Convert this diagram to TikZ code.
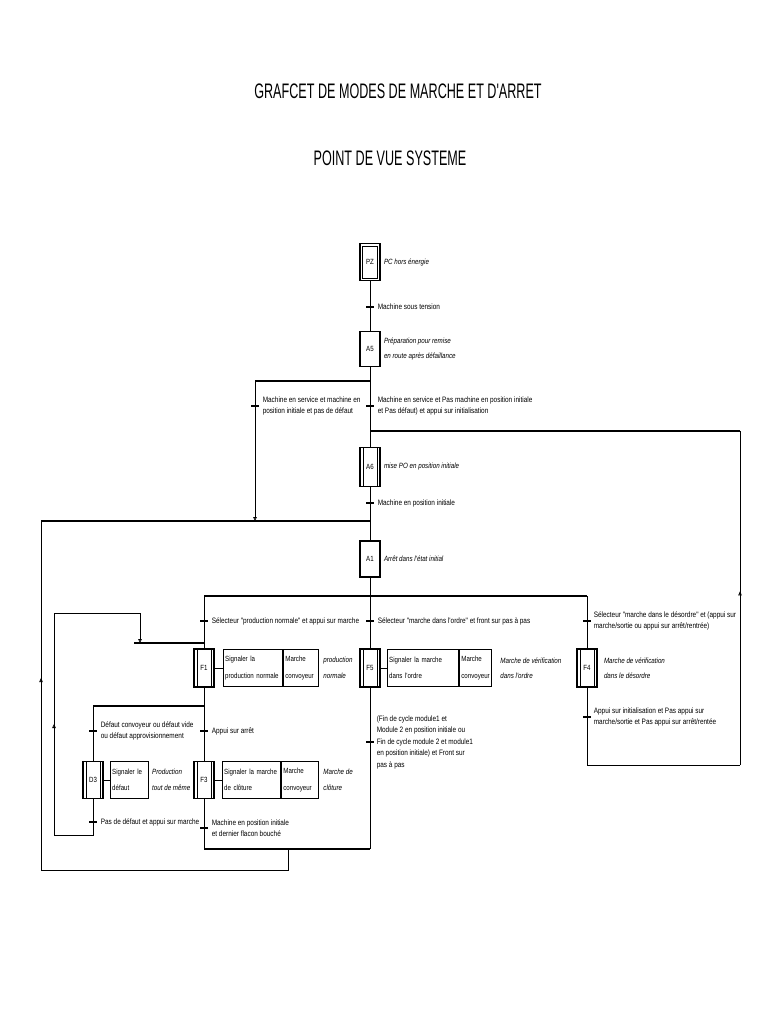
\documentclass[tikz,border=0pt]{standalone}
\usepackage{fontspec}
\usepackage{tikz}
\usetikzlibrary{arrows.meta,positioning,decorations.markings}
\newfontfamily\lblfont[FakeStretch=0.82]{Liberation Sans}
\newfontfamily\titrefont[FakeStretch=0.6]{Liberation Sans}
\newcommand{\petit}{\lblfont\fontsize{7.85}{11.5}\selectfont}

\tikzset{
  etape/.style={draw,line width=1.2pt,minimum width=20pt,minimum height=37pt,inner sep=0,font=\lblfont\fontsize{7.5}{9}\selectfont},
  etapeinit/.style={etape,path picture={\draw[line width=0.6pt] ([shift={(2.5pt,-2.5pt)}]path picture bounding box.north west) rectangle ([shift={(-2.5pt,2.5pt)}]path picture bounding box.south east);}},
  etapedbl/.style={etape,path picture={\draw[line width=0.6pt]
      ([xshift=3pt]path picture bounding box.north west) -- ([xshift=3pt]path picture bounding box.south west)
      ([xshift=-3pt]path picture bounding box.north east) -- ([xshift=-3pt]path picture bounding box.south east);}},
  trans/.style={fill,minimum width=8pt,minimum height=1.4pt,inner sep=0},
  recept/.style={anchor=west,align=left,inner sep=0,font=\petit},
  comment/.style={anchor=west,align=left,inner sep=0,font=\lblfont\fontsize{7.6}{15.5}\selectfont\itshape},
  action/.style={draw,line width=1.2pt,minimum height=37pt,inner xsep=2pt,inner ysep=0,text width=#1,align=left,font=\lblfont\fontsize{7.5}{16.5}\selectfont},
  jonction/.style={line width=1.3pt},
  fleche/.style={-{Triangle[open,length=4pt,width=3.5pt]}},
  midfleche/.style={postaction={decorate},decoration={markings,mark=at position #1 with {\arrow{Triangle[open,length=4pt,width=3.5pt]}}}}
}

\begin{document}
\begin{tikzpicture}[x=1pt,y=-1pt,line width=0.8pt]
\useasboundingbox (0,0) rectangle (768,1024);
\node[font=\titrefont\fontsize{21}{24}\selectfont] (titre) at (398,91) {GRAFCET DE MODES DE MARCHE ET D'ARRET};
\node[font=\titrefont\fontsize{21}{24}\selectfont] (soustitre) at (390,158) {POINT DE VUE SYSTEME};

% etapes de la colonne principale
\node[etapeinit] (pz) at (370,262) {PZ};
\node[comment,right=3pt of pz] {PC hors énergie};
\node[etape,minimum height=35pt] (a5) at (370,349) {A5};
\node[comment,right=3pt of a5] {Préparation pour remise\\en route après défaillance};
\node[etapedbl,minimum height=39pt] (a6) at (370,467) {A6};
\node[comment,right=3pt of a6] {mise PO en position initiale};
\node[etape,minimum height=36pt] (a1) at (370,559) {A1};
\node[comment,right=3pt of a1] {Arrêt dans l'état initial};

% etapes de production
\node[etapedbl,minimum height=38pt] (f1) at (204,668) {F1};
\node[action=55pt,right=8pt of f1] (f1a) {Signaler la\\production normale};
\node[action=31pt,right=0pt of f1a] (f1b) {Marche\\convoyeur};
\node[comment,right=4pt of f1b] {production\\normale};
\node[etapedbl,minimum height=38pt] (f5) at (370,668) {F5};
\node[action=67pt,right=6pt of f5] (f5a) {Signaler la marche\\dans l'ordre};
\node[action=28pt,right=0pt of f5a] (f5b) {Marche\\convoyeur};
\node[comment,right=8pt of f5b] {Marche de vérification\\dans l'ordre};
\node[etapedbl,minimum height=38pt] (f4) at (587,668) {F4};
\node[comment,right=6pt of f4] {Marche de vérification\\dans le désordre};
\node[etapedbl] (d3) at (93,780) {D3};
\node[action=34pt,right=6pt of d3] (d3a) {Signaler le\\défaut};
\node[comment,right=3pt of d3a] {Production\\tout de même};
\node[etapedbl] (f3) at (204,780) {F3};
\node[action=54pt,right=7pt of f3] (f3a) {Signaler la marche\\de clôture};
\node[action=33pt,right=0pt of f3a] (f3b) {Marche\\convoyeur};
\node[comment,right=4pt of f3b] {Marche de\\clôture};

% points de jonction
\coordinate (d1) at (370,381);
\coordinate (d1g) at (255,381);
\coordinate (c1) at (370,431);
\coordinate (c1d) at (740,431);
\coordinate (c2) at (370,521);
\coordinate (c2g) at (41,521);
\coordinate (c2a) at (255,521);
\coordinate (d2) at (370,596);
\coordinate (d2g) at (204,596);
\coordinate (d2d) at (587,596);
\coordinate (c3) at (204,643);
\coordinate (c3g) at (134,643);
\coordinate (r1) at (140,613);
\coordinate (r1b) at (140,643);
\coordinate (d4) at (204,706);
\coordinate (d4g) at (93,706);
\coordinate (g1) at (54,835);
\coordinate (g2) at (54,613);
\coordinate (c5) at (204,849);
\coordinate (c5d) at (370,849);
\coordinate (c6) at (288,849);
\coordinate (b1) at (288,870);
\coordinate (b2) at (41,870);
\coordinate (e1) at (587,765);
\coordinate (e2) at (740,765);

% liaisons
\draw (pz.south) -- (a5.north);
\draw (a5.south) -- (a6.north);
\draw[jonction] (d1g) -- (d1);
\draw[fleche] (d1g) -- (c2a);
\draw[jonction] (c1) -- (c1d);
\draw (a6.south) -- (a1.north);
\draw[jonction] (c2g) -- (c2);
\draw (a1.south) -- (d2);
\draw[jonction] (d2g) -- (d2d);
\draw (d2g) -- (f1.north);
\draw (d2) -- (f5.north);
\draw (d2d) -- (f4.north);
\draw[jonction] (c3g) -- (c3);
\draw[fleche] (r1) -- (r1b);
\draw (f1.south) -- (f3.north);
\draw[jonction] (d4g) -- (d4);
\draw (d4g) -- (d3.north);
\draw (d3.south) |- (g1);
\draw[midfleche=0.5] (g1) -- (g2);
\draw (g2) -- (r1);
\draw (f3.south) -- (c5);
\draw (f5.south) -- (c5d);
\draw[jonction] (c5) -- (c5d);
\draw (c6) -- (b1) -- (b2);
\draw[midfleche=0.55] (b2) -- (c2g);
\draw (f4.south) -- (e1) -- (e2);
\draw[midfleche=0.52] (e2) -- (c1d);
\draw (f1) -- (f1a);
\draw (f5) -- (f5a);
\draw (d3) -- (d3a);
\draw (f3) -- (f3a);

% transitions
\node[trans] (t1) at (370,307) {};
\node[recept,right=3pt of t1] {Machine sous tension};
\node[trans] (t2) at (255,406) {};
\node[recept,right=3pt of t2] {Machine en service et machine en\\position initiale et pas de défaut};
\node[trans] (t3) at (370,406) {};
\node[recept,right=3pt of t3] {Machine en service et Pas machine en position initiale\\et Pas défaut) et appui sur initialisation};
\node[trans] (t4) at (370,503) {};
\node[recept,right=3pt of t4] {Machine en position initiale};
\node[trans] (t5) at (204,621) {};
\node[recept,right=3pt of t5] {Sélecteur "production normale" et appui sur marche};
\node[trans] (t6) at (370,621) {};
\node[recept,right=3pt of t6] {Sélecteur "marche dans l'ordre" et front sur pas à pas};
\node[trans] (t7) at (587,621) {};
\node[recept,right=2pt of t7] {Sélecteur "marche dans le désordre" et (appui sur\\marche/sortie ou appui sur arrêt/rentrée)};
\node[trans] (t13) at (587,717) {};
\node[recept,right=2pt of t13] {Appui sur initialisation et Pas appui sur\\marche/sortie et Pas appui sur arrêt/rentée};
\node[trans] (t8) at (93,731) {};
\node[recept,right=3pt of t8] {Défaut convoyeur ou défaut vide\\ou défaut approvisionnement};
\node[trans] (t9) at (204,731) {};
\node[recept,right=3pt of t9] {Appui sur arrêt};
\node[trans] (t12) at (370,742) {};
\node[recept,right=2pt of t12] {(Fin de cycle module1 et\\Module 2 en position initiale ou\\Fin de cycle module 2 et module1\\en position initiale) et Front sur\\pas à pas};
\node[trans] (t10) at (93,822) {};
\node[recept,right=3pt of t10] {Pas de défaut et appui sur marche};
\node[trans] (t11) at (204,828) {};
\node[recept,right=3pt of t11] {Machine en position initiale\\et dernier flacon bouché};
\end{tikzpicture}
\end{document}
